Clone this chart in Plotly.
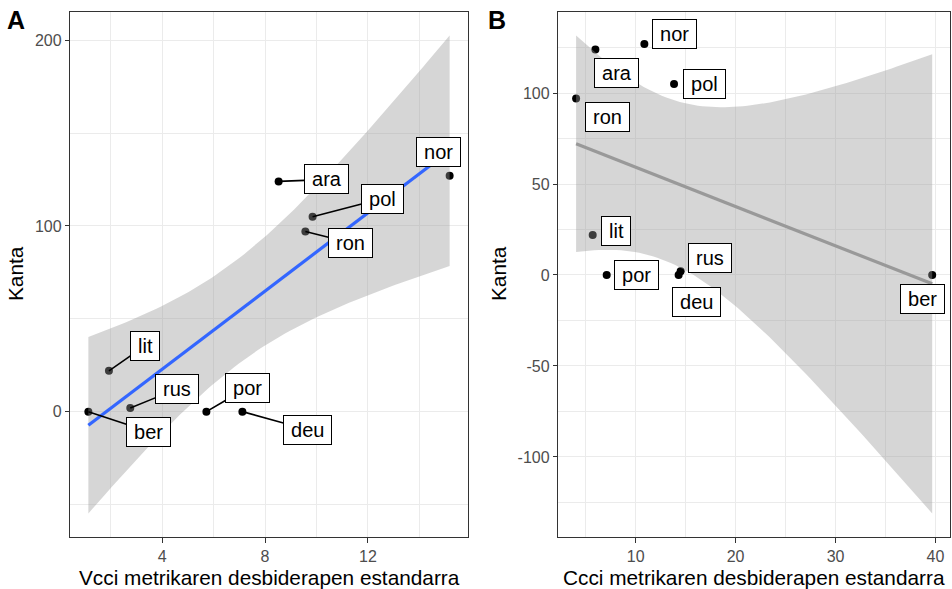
import numpy as np
import plotly.graph_objects as go

# Hizkuntzak eta balioak
languages = ["ara", "pol", "ron", "nor", "lit", "rus", "ber", "por", "deu"]
kanta = [124, 105, 97, 127, 22, 2, 0, 0, 0]
vcci_sd = [8.53, 9.85, 9.57, 15.18, 1.93, 2.76, 1.13, 5.72, 7.12]
ccci_sd = [5.97, 13.84, 4.04, 10.87, 5.70, 14.50, 39.67, 7.10, 14.30]

# Ardatzetako etiketak
ticks_a_x = [4, 8, 12]
ticks_a_y = [0, 100, 200]
ticks_b_x = [10, 20, 30, 40]
ticks_b_y = [-100, -50, 0, 50, 100]
ticktext_b_y = ["-100", "-50", "0", "50", "100"]

# Etiketen desplazamendua (pixeletan) eta lotura-marra erakutsi ala ez
label_offsets_a = {
    "ara": (48, -2, True), "pol": (70, -18, True), "ron": (45, 11, True),
    "nor": (-11, -24, False), "lit": (36, -25, True), "rus": (47, -19, True),
    "ber": (60, 20, True), "por": (41, -24, True), "deu": (65, 18, True),
}
label_offsets_b = {
    "ara": (21, 24, False), "pol": (30, 0, False), "ron": (31, 18, False),
    "nor": (30, -10, False), "lit": (23, -4, False), "rus": (29, -13, False),
    "ber": (-10, 24, False), "por": (30, 0, False), "deu": (18, 27, False),
}

T_975_DF7 = 2.364624  # t banaketaren 0.975 kuantila, df = 7

FONT = "Liberation Sans, Arial, sans-serif"
W, H = 952, 589


def lm_band(x, y, n=80):
    x = np.asarray(x, float)
    y = np.asarray(y, float)
    slope, intercept = np.polyfit(x, y, 1)
    resid = y - (intercept + slope * x)
    dof = len(x) - 2
    s = np.sqrt(np.sum(resid ** 2) / dof)
    xm = x.mean()
    sxx = np.sum((x - xm) ** 2)
    xs = np.linspace(x.min(), x.max(), n)
    fit = intercept + slope * xs
    se = s * np.sqrt(1 / len(x) + (xs - xm) ** 2 / sxx)
    return xs, fit, fit - T_975_DF7 * se, fit + T_975_DF7 * se


def expand(lo, hi, f=0.05):
    span = hi - lo
    return [lo - f * span, hi + f * span]


fig = go.Figure()

panels = [
    ("x", "y", vcci_sd, "#3366FF", label_offsets_a),
    ("x2", "y2", ccci_sd, "#999999", label_offsets_b),
]

THIN = "\u2009"
annotations = []
ranges = []
for xa, ya, xs_data, line_col, offsets in panels:
    xs, fit, lo, hi = lm_band(xs_data, kanta)
    # puntuak
    fig.add_trace(go.Scatter(
        x=xs_data, y=kanta, mode="markers", xaxis=xa, yaxis=ya,
        marker=dict(color="black", size=8), showlegend=False, hoverinfo="text",
        text=languages,
    ))
    # konfiantza tartea
    fig.add_trace(go.Scatter(
        x=np.concatenate([xs, xs[::-1]]), y=np.concatenate([hi, lo[::-1]]),
        fill="toself", fillcolor="rgba(153,153,153,0.4)", line=dict(width=0),
        mode="lines", xaxis=xa, yaxis=ya, showlegend=False, hoverinfo="skip",
    ))
    # erregresio lerroa
    fig.add_trace(go.Scatter(
        x=xs, y=fit, mode="lines", line=dict(color=line_col, width=3.2),
        xaxis=xa, yaxis=ya, showlegend=False, hoverinfo="skip",
    ))
    ymin = min(min(kanta), lo.min())
    ymax = max(max(kanta), hi.max())
    ranges.append((expand(min(xs_data), max(xs_data)), expand(ymin, ymax)))

    for lang, xv, yv in zip(languages, xs_data, kanta):
        ax, ay, seg = offsets[lang]
        annotations.append(dict(
            x=xv, y=yv, xref=xa, yref=ya, text=THIN + lang + THIN, showarrow=True,
            ax=ax, ay=ay, arrowhead=0, arrowwidth=1.6,
            arrowcolor="black" if seg else "rgba(0,0,0,0)",
            bgcolor="white", bordercolor="black", borderwidth=1, borderpad=3,
            font=dict(family=FONT, size=20, color="black"),
        ))

# domeinuak
top, bottom = 11.7, 537.3
ydom = [1 - bottom / H, 1 - top / H]
xdom_a = [70.3 / W, 467.7 / W]
xdom_b = [558.3 / W, 950 / W]

axis_common = dict(
    showline=True, linecolor="#333333", linewidth=1, mirror=True,
    ticks="outside", ticklen=4.5, tickcolor="#333333", tickwidth=1,
    tickfont=dict(family=FONT, size=16, color="#4d4d4d"),
    showgrid=True, gridcolor="#ebebeb", gridwidth=1.1, zeroline=False,
    automargin=False, tickmode="array",
)
minor_grid = dict(showgrid=True, gridcolor="#ebebeb", gridwidth=0.55)

fig.update_layout(
    width=W, height=H, margin=dict(l=0, r=0, t=0, b=0),
    plot_bgcolor="white", paper_bgcolor="white",
    xaxis=dict(domain=xdom_a, range=ranges[0][0], tickvals=ticks_a_x,
               minor=dict(tick0=0, dtick=2, **minor_grid),
               anchor="y", **axis_common),
    yaxis=dict(domain=ydom, range=ranges[0][1], tickvals=ticks_a_y,
               ticktext=[str(v) for v in ticks_a_y],
               minor=dict(tick0=0, dtick=50, **minor_grid),
               anchor="x", **axis_common),
    xaxis2=dict(domain=xdom_b, range=ranges[1][0], tickvals=ticks_b_x,
                minor=dict(tick0=0, dtick=5, **minor_grid),
                anchor="y2", **axis_common),
    yaxis2=dict(domain=ydom, range=ranges[1][1], tickvals=ticks_b_y,
                ticktext=ticktext_b_y,
                minor=dict(tick0=0, dtick=25, **minor_grid),
                anchor="x2", **axis_common),
)

title_font = dict(family=FONT, size=20.8, color="black")
common = dict(xref="paper", yref="paper", showarrow=False,
              xanchor="center", yanchor="middle")
annotations += [
    dict(text="<b>A</b>", x=16 / W, y=1 - 20 / H,
         font=dict(family=FONT, size=25, color="black"), **common),
    dict(text="<b>B</b>", x=497 / W, y=1 - 20 / H,
         font=dict(family=FONT, size=25, color="black"), **common),
    dict(text="Vcci metrikaren desbiderapen estandarra", x=(70.3 + 467.7) / 2 / W,
         y=1 - 577 / H, font=title_font, **common),
    dict(text="Ccci metrikaren desbiderapen estandarra", x=(558.3 + 950) / 2 / W,
         y=1 - 577 / H, font=title_font, **common),
    dict(text="Kanta", x=16 / W, y=1 - 274 / H, textangle=-90,
         font=title_font, **common),
    dict(text="Kanta", x=499 / W, y=1 - 274 / H, textangle=-90,
         font=title_font, **common),
]
fig.update_layout(annotations=annotations)

fig.write_html("out.html")
